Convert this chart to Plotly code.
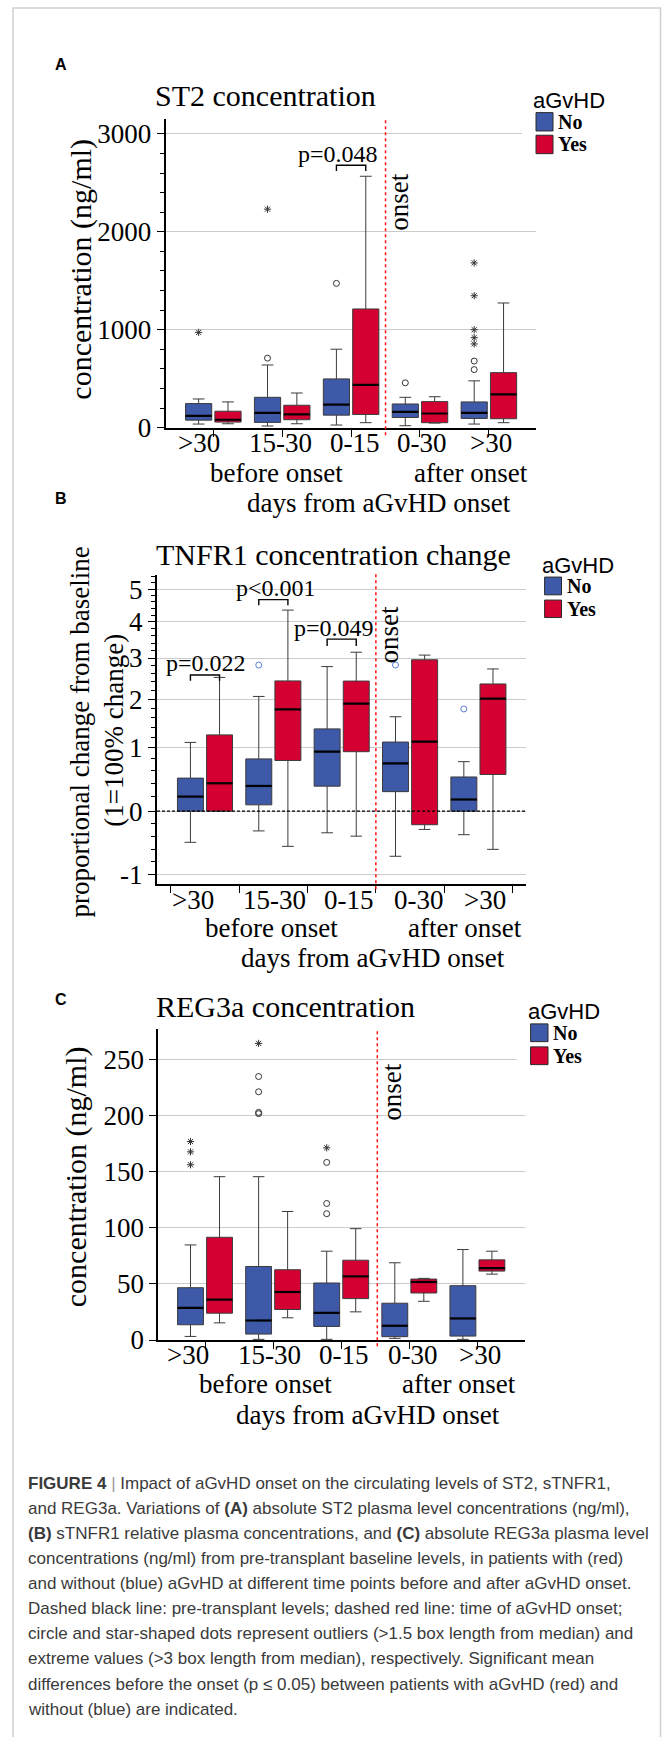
import math
import plotly.graph_objects as go

W, H = 663, 1737

# ---------------- data ----------------
categories = [">30", "15-30", "0-15", "0-30", ">30"]
group_names = ["No", "Yes"]

# Panel A: ST2 concentration (ng/ml)
st2_no_low = [37, 17, 27, 20, 37]
st2_no_q1 = [77, 54, 128, 104, 94]
st2_no_med = [121, 152, 236, 162, 152]
st2_no_q3 = [246, 310, 498, 242, 263]
st2_no_high = [293, 640, 801, 310, 478]
st2_no_circles = [[], [710], [1473], [458], [680, 593]]
st2_no_stars = [[973], [2231], [], [], [1682, 1347, 1000, 919, 855]]
st2_yes_low = [40, 40, 51, 47, 51]
st2_yes_q1 = [57, 81, 135, 51, 91]
st2_yes_med = [81, 135, 438, 145, 340]
st2_yes_q3 = [168, 229, 1212, 266, 562]
st2_yes_high = [263, 354, 2567, 316, 1273]
st2_p_cat = [2]
st2_p_text = ["p=0.048"]
st2_p_top = [2679]
st2_p_leg = [2621]

# Panel B: TNFR1 proportional change from baseline
tnf_no_low = [-0.49, -0.31, -0.34, -0.71, -0.37]
tnf_no_q1 = [0.0, 0.085, 0.354, 0.272, 0.0]
tnf_no_med = [0.20, 0.357, 0.928, 0.721, 0.159]
tnf_no_q3 = [0.479, 0.80, 1.364, 1.107, 0.497]
tnf_no_high = [1.10, 2.06, 2.78, 1.614, 0.752]
tnf_no_circles = [[], [2.82], [], [2.82], [1.78]]
tnf_yes_low = [0.0, -0.554, -0.393, -0.287, -0.601]
tnf_yes_q1 = [0.0, 0.772, 0.928, -0.213, 0.537]
tnf_yes_med = [0.398, 1.77, 1.90, 1.114, 2.011]
tnf_yes_q3 = [1.245, 2.425, 2.421, 2.955, 2.352]
tnf_yes_high = [2.51, 4.35, 3.153, 3.077, 2.72]
tnf_p_cat = [0, 1, 2]
tnf_p_text = ["p=0.022", "p<0.001", "p=0.049"]
tnf_p_top = [2.57, 4.67, 3.51]
tnf_p_leg = [2.43, 4.50, 3.32]

# Panel C: REG3a concentration (ng/ml)
reg_no_low = [3.2, 0.6, 0.6, 1.5, 0.6]
reg_no_q1 = [13.6, 5.3, 12.1, 3.0, 3.5]
reg_no_med = [28.6, 17.4, 24.2, 12.7, 19.2]
reg_no_q3 = [46.6, 65.5, 50.8, 32.8, 48.4]
reg_no_high = [84.7, 145.5, 79.1, 68.8, 80.6]
reg_no_circles = [[], [234.7, 221.1, 202.8, 201.6], [158.2, 121.6, 112.5], [], []]
reg_no_stars = [[176.8, 167.6, 156.1], [264.2], [171.2], [], []]
reg_yes_low = [15.3, 19.8, 25.1, 34.5, 58.7]
reg_yes_q1 = [23.9, 27.2, 36.9, 41.9, 61.4]
reg_yes_med = [36.0, 42.8, 56.7, 51.7, 64.0]
reg_yes_q3 = [91.5, 62.6, 71.1, 54.3, 71.4]
reg_yes_high = [145.5, 114.5, 99.2, 54.9, 79.1]

# axis ticks
st2_ticks = [0, 1000, 2000, 3000]
tnf_ticks = [-1, 0, 1, 2, 3, 4, 5]
reg_ticks = [0, 50, 100, 150, 200, 250]

# ---------------- style ----------------
SERIF = "Liberation Serif"
SANS = "Liberation Sans"
BLUE = "#3D59A8"
RED = "#D50032"
EDGE = "#3c3c3c"
GRID = "#cbcbcb"
OFF = 0.213
BW = 0.38

S2 = math.sqrt(2) - 1


def ident(v):
    return v


def tf_b(v):
    # scale of panel B: square-root style above 0, linear below 0
    return (math.sqrt(v + 1) - 1) / S2 if v >= 0 else v


def px(x):
    return x / W


def py(y):
    return 1 - y / H


fig = go.Figure()
annotations = []
shapes = []


def add_group(xa, ya, stats, color, offset, tf):
    low, q1, med, q3, high = stats
    pos = [i + offset for i in range(len(categories))]
    fig.add_trace(go.Box(
        x=pos, q1=[tf(v) for v in q1], median=[tf(v) for v in med],
        q3=[tf(v) for v in q3], lowerfence=[tf(v) for v in low],
        upperfence=[tf(v) for v in high], width=BW, whiskerwidth=0.45,
        fillcolor=color, line=dict(color=EDGE, width=1), boxpoints=False,
        xaxis=xa, yaxis=ya, hoverinfo="skip", showlegend=False))
    mx, my = [], []
    for p, m in zip(pos, med):
        mx += [p - BW / 2, p + BW / 2, None]
        my += [tf(m), tf(m), None]
    fig.add_trace(go.Scatter(x=mx, y=my, mode="lines",
                             line=dict(color="black", width=2.2),
                             xaxis=xa, yaxis=ya, hoverinfo="skip", showlegend=False))


def add_points(xa, ya, lists, offset, symbol, color, size, tf):
    xs, ys = [], []
    for i, vals in enumerate(lists):
        for v in vals:
            xs.append(i + offset)
            ys.append(tf(v))
    if xs:
        fig.add_trace(go.Scatter(x=xs, y=ys, mode="markers",
                                 marker=dict(symbol=symbol, size=size, color=color,
                                             line=dict(color=color, width=1)),
                                 xaxis=xa, yaxis=ya, hoverinfo="skip", showlegend=False))


def add_brackets(xa, ya, cats, tops, legs, tf):
    xs, ys = [], []
    for c, t, l in zip(cats, tops, legs):
        x0, x1 = c - OFF, c + OFF
        xs += [x0, x0, x1, x1, None]
        ys += [tf(l), tf(t), tf(t), tf(l), None]
    fig.add_trace(go.Scatter(x=xs, y=ys, mode="lines",
                             line=dict(color="black", width=1.4),
                             xaxis=xa, yaxis=ya, hoverinfo="skip", showlegend=False))


def text(x, y, s, size, family=SERIF, color="black", angle=0, xanchor="center"):
    annotations.append(dict(x=px(x), y=py(y), xref="paper", yref="paper", text=s,
                            showarrow=False, textangle=angle, xanchor=xanchor,
                            yanchor="middle",
                            font=dict(family=family, size=size, color=color)))


def legend(tx, ty, sx0, sx1, no_y, yes_y, lx):
    text(tx, ty, "aGvHD", 22, SANS, xanchor="left")
    for (y0, y1), col, name in zip([no_y, yes_y], [BLUE, RED], group_names):
        shapes.append(dict(type="rect", xref="paper", yref="paper",
                           x0=px(sx0), x1=px(sx1), y0=py(y1), y1=py(y0),
                           fillcolor=col, line=dict(color="#2a2a2a", width=1)))
        text(lx, (y0 + y1) / 2, "<b>%s</b>" % name, 20, SERIF, xanchor="left")


# ---------------- Panel A ----------------
add_group("x", "y", [st2_no_low, st2_no_q1, st2_no_med, st2_no_q3, st2_no_high], BLUE, -OFF, ident)
add_group("x", "y", [st2_yes_low, st2_yes_q1, st2_yes_med, st2_yes_q3, st2_yes_high], RED, OFF, ident)
add_points("x", "y", st2_no_circles, -OFF, "circle-open", "#333333", 6, ident)
add_points("x", "y", st2_no_stars, -OFF, "asterisk-open", "#333333", 6, ident)
add_brackets("x", "y", st2_p_cat, st2_p_top, st2_p_leg, ident)

# ---------------- Panel B ----------------
add_group("x2", "y2", [tnf_no_low, tnf_no_q1, tnf_no_med, tnf_no_q3, tnf_no_high], BLUE, -OFF, tf_b)
add_group("x2", "y2", [tnf_yes_low, tnf_yes_q1, tnf_yes_med, tnf_yes_q3, tnf_yes_high], RED, OFF, tf_b)
add_points("x2", "y2", tnf_no_circles, -OFF, "circle-open", "#5a7fd8", 6, tf_b)
add_brackets("x2", "y2", tnf_p_cat, tnf_p_top, tnf_p_leg, tf_b)

# ---------------- Panel C ----------------
add_group("x3", "y3", [reg_no_low, reg_no_q1, reg_no_med, reg_no_q3, reg_no_high], BLUE, -OFF, ident)
add_group("x3", "y3", [reg_yes_low, reg_yes_q1, reg_yes_med, reg_yes_q3, reg_yes_high], RED, OFF, ident)
add_points("x3", "y3", reg_no_circles, -OFF, "circle-open", "#333333", 6, ident)
add_points("x3", "y3", reg_no_stars, -OFF, "asterisk-open", "#333333", 6, ident)


def xaxis_cfg(x0, x1, rng, tickvals, anchor):
    return dict(domain=[px(x0), px(x1)], range=rng, anchor=anchor, showline=True,
                linecolor="black", linewidth=2, showgrid=False, zeroline=False,
                ticks="outside", ticklen=7, tickwidth=1.3, tickcolor="black",
                tickmode="array", tickvals=tickvals, showticklabels=False)


def yaxis_cfg(y0, y1, rng, tickvals, ticktext, minorvals, anchor):
    d = dict(domain=[py(y1), py(y0)], range=rng, anchor=anchor, showline=True,
             linecolor="black", linewidth=2, showgrid=True, gridcolor=GRID, gridwidth=1,
             zeroline=False, ticks="outside", ticklen=7, tickwidth=1.3, tickcolor="black",
             tickmode="array", tickvals=tickvals, ticktext=ticktext,
             tickfont=dict(family=SERIF, size=27, color="black"))
    if minorvals:
        d["minor"] = dict(tickmode="array", tickvals=minorvals, ticks="outside",
                          ticklen=4, tickwidth=1, tickcolor="black", showgrid=False)
    return d


cat_pos = list(range(len(categories)))
bounds = [i - 0.5 for i in range(len(categories) + 1)]

st2_minor = [v for v in range(0, 3200, 200) if v % 1000 != 0]
tnf_minor = [tf_b(round(-1 + 0.2 * k, 1)) for k in range(33)
             if abs(round(-1 + 0.2 * k, 1) - round(-1 + 0.2 * k)) > 1e-6]

fig.update_layout(
    xaxis=xaxis_cfg(165.7, 536, [-0.691, 4.684], cat_pos, "y"),
    yaxis=yaxis_cfg(119.6, 431.4, [0, 3156], st2_ticks, [str(v) for v in st2_ticks], st2_minor, "x"),
    xaxis2=xaxis_cfg(157, 525.5, [-0.702, 4.689], bounds, "y2"),
    yaxis2=yaxis_cfg(580, 891.7, [-1.147, 3.723], [tf_b(v) for v in tnf_ticks],
                     [str(v) for v in tnf_ticks], tnf_minor, "x2"),
    xaxis3=xaxis_cfg(158.3, 525, [-0.686, 4.699], cat_pos, "y3"),
    yaxis3=yaxis_cfg(1038, 1351.7, [0, 277], reg_ticks, [str(v) for v in reg_ticks], None, "x3"),
)

# reference lines
shapes.append(dict(type="line", xref="x", yref="paper", x0=2.5, x1=2.5,
                   y0=py(439), y1=py(119.6), line=dict(color="#ff1010", width=1.5, dash="dot")))
shapes.append(dict(type="line", xref="x2", yref="paper", x0=2.5, x1=2.5,
                   y0=py(897), y1=py(578.6), line=dict(color="#ff1010", width=1.5, dash="dot")))
shapes.append(dict(type="line", xref="x3", yref="paper", x0=2.53, x1=2.53,
                   y0=py(1358), y1=py(1038), line=dict(color="#ff1010", width=1.5, dash="dot")))
shapes.append(dict(type="line", xref="x2 domain", yref="y2", x0=0, x1=1, y0=0, y1=0,
                   line=dict(color="black", width=1.3, dash="3px,2px")))
# gridline gaps behind legends
shapes.append(dict(type="rect", xref="paper", yref="paper", x0=px(522), x1=px(538),
                   y0=py(137), y1=py(132), fillcolor="white", line=dict(width=0), layer="above"))
shapes.append(dict(type="rect", xref="paper", yref="paper", x0=px(516.7), x1=px(527),
                   y0=py(1071.5), y1=py(1066.5), fillcolor="white", line=dict(width=0), layer="above"))
# outer frame
shapes.append(dict(type="rect", xref="paper", yref="paper", x0=px(13), x1=px(660.5),
                   y0=py(1760), y1=py(8), line=dict(color="#d0d0d0", width=1.5),
                   fillcolor="rgba(0,0,0,0)", layer="below"))

# ---------------- texts ----------------
for lab, y in [("A", 65.4), ("B", 502.8), ("C", 1007.8)]:
    text(60.5, y, "<b>%s</b>" % lab, 16, SANS)

text(153, 96.4, "ST2 concentration", 30, xanchor="left")
text(154, 559.6, "TNFR1 concentration change", 30, xanchor="left")
text(154, 1015, "REG3a concentration", 30, xanchor="left")

text(81, 272, "concentration (ng/ml)", 30, angle=-90)
text(80.3, 738.5, "proportional change from baseline", 27, angle=-90)
text(114, 737, "(1=100% change)", 27, angle=-90)
text(76, 1187.5, "concentration (ng/ml)", 30, angle=-90)

text(399.5, 204, "onset", 27, angle=-90)
text(389, 641, "onset", 27, angle=-90)
text(391.7, 1101.5, "onset", 27, angle=-90)

# category labels
for xs, y in [([199, 280.3, 355, 422, 490.7], 446.7),
              ([193, 274.6, 349, 419, 485], 907.8),
              ([188.3, 269.2, 344.2, 413.3, 480], 1367)]:
    for x, lab in zip(xs, categories):
        text(x, y, lab.replace(">", "&gt;"), 27)

for (bx, ax_, dx), (y1, y2) in zip([(276.7, 470.6, 379), (271.4, 465, 373), (265, 459, 368)],
                                   [(477.4, 507), (936.4, 966.8), (1396.5, 1427)]):
    text(bx, y1, "before onset", 27)
    text(ax_, y1, "after onset", 27)
    text(dx, y2, "days from aGvHD onset", 27)

# p-values
text(338, 155.3, st2_p_text[0], 24)
for (x, y), s in zip([(206, 669), (275.8, 593.6), (334, 633.6)], tnf_p_text):
    text(x, y, s.replace("<", "&lt;"), 24)

# legends
legend(530.6, 101.8, 536, 553, (113.6, 132.1), (136.4, 155), 555.5)
legend(540.4, 570.4, 544.6, 561.5, (582.1, 600), (605.3, 622.9), 564.5)
legend(526.4, 1020.3, 530.6, 548, (1032.8, 1050.7), (1056, 1073.9), 550.5)

# caption
caption = [
    "<b>FIGURE 4</b> <span style='color:#999'>|</span> Impact of aGvHD onset on the circulating levels of ST2, sTNFR1,",
    "and REG3a. Variations of <b>(A)</b> absolute ST2 plasma level concentrations (ng/ml),",
    "<b>(B)</b> sTNFR1 relative plasma concentrations, and <b>(C)</b> absolute REG3a plasma level",
    "concentrations (ng/ml) from pre-transplant baseline levels, in patients with (red)",
    "and without (blue) aGvHD at different time points before and after aGvHD onset.",
    "Dashed black line: pre-transplant levels; dashed red line: time of aGvHD onset;",
    "circle and star-shaped dots represent outliers (&gt;1.5 box length from median) and",
    "extreme values (&gt;3 box length from median), respectively. Significant mean",
    "differences before the onset (p ≤ 0.05) between patients with aGvHD (red) and",
    "without (blue) are indicated.",
]
cap_y = [1496.1, 1521.7, 1546.8, 1572, 1597.2, 1622.8, 1648, 1673.2, 1698.8, 1723.9]
for s, y in zip(caption, cap_y):
    text(25.5, y, s, 17, SANS, color="#3a3a3a", xanchor="left")

fig.update_layout(width=W, height=H, margin=dict(l=0, r=0, t=0, b=0),
                  paper_bgcolor="white", plot_bgcolor="white", showlegend=False,
                  boxmode="overlay", annotations=annotations, shapes=shapes)

post = (
    "document.documentElement.style.margin='0';"
    "document.documentElement.style.padding='0';"
    "document.documentElement.style.overflow='hidden';"
    "document.body.style.margin='0';"
    "document.body.style.padding='0';"
    "document.body.style.overflow='hidden';"
    "var gdv=document.getElementsByClassName('plotly-graph-div')[0];"
    "if(gdv){gdv.style.position='absolute';gdv.style.left='0px';gdv.style.top='0px';}"
)
fig.write_html("out.html", config={"displayModeBar": False}, post_script=post)
